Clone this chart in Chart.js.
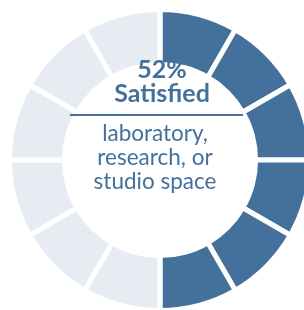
<!DOCTYPE html>
<html>
<head>
<meta charset="utf-8">
<script src="https://cdn.jsdelivr.net/npm/chart.js@4"></script>
<style>
  html, body { margin: 0; padding: 0; background: #fff; overflow: hidden; width: 304px; height: 310px; }
  #wrap { position: absolute; left: 0; top: 0; width: 320px; height: 320px; }
  .lbl { position: absolute; color: #44709c; font-family: Lato, sans-serif; white-space: nowrap; text-align: center; }
  #pct { left: 62px; width: 200px; top: 56px; font-size: 25px; font-weight: bold; line-height: 24px; }
  #rule { position: absolute; left: 70px; width: 173px; top: 114px; height: 2px; background: #44709c; }
  #sub { left: 55px; width: 200px; top: 121px; font-size: 22.5px; line-height: 24px; }
</style>
</head>
<body>
<div id="wrap"><canvas id="donut"></canvas></div>
<div class="lbl" id="pct"></div>
<div id="rule"></div>
<div class="lbl" id="sub"></div>
<script>
// veri
const yuzde = 52;
const baslik = 'Satisfied';
const altYazi = ['laboratory,', 'research, or', 'studio space'];
const dilimler = [1, 1, 1, 1, 1, 1, 1, 1, 1, 1, 1, 1];

const KOYU = '#44709c';
const ACIK = '#e7ecf3';

const doluSayisi = Math.round(yuzde / 100 * dilimler.length);
const renkler = dilimler.map((d, i) => i < doluSayisi ? KOYU : ACIK);

document.getElementById('pct').innerHTML = yuzde + '%<br>' + baslik;
document.getElementById('sub').innerHTML = altYazi.join('<br>');

new Chart(document.getElementById('donut'), {
  type: 'doughnut',
  data: {
    labels: dilimler.map((d, i) => 'Dilim ' + (i + 1)),
    datasets: [{
      data: dilimler,
      backgroundColor: renkler,
      borderColor: '#ffffff',
      borderWidth: 5,
      borderJoinStyle: 'miter'
    }]
  },
  options: {
    responsive: true,
    maintainAspectRatio: false,
    animation: false,
    cutout: '63.5%',
    layout: { padding: 7 },
    plugins: { legend: { display: false }, tooltip: { enabled: false } }
  }
});
</script>
</body>
</html>
